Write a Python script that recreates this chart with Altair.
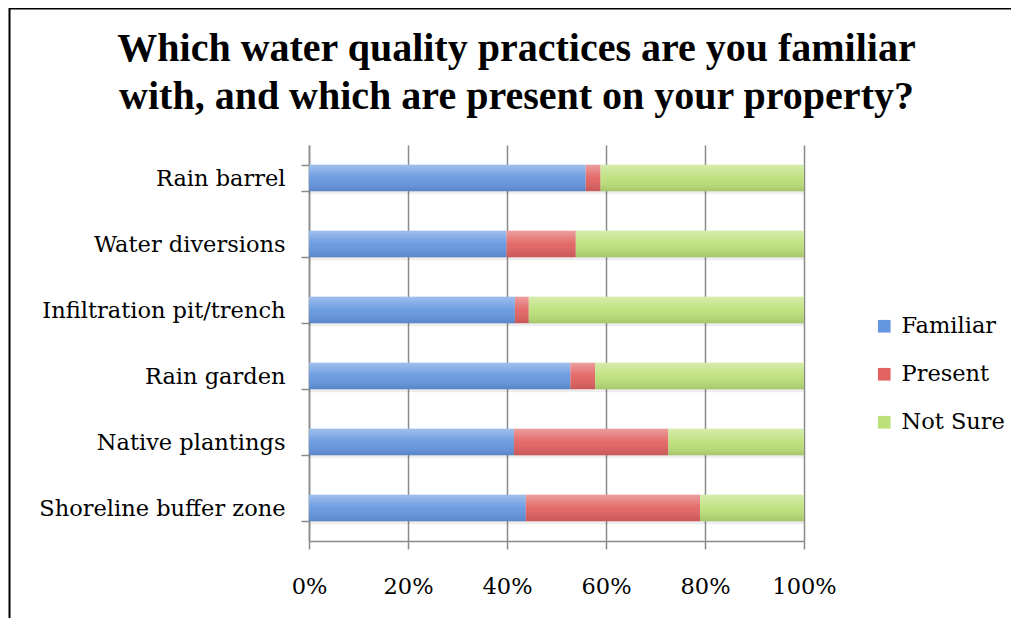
import altair as alt
import pandas as pd

practices = ["Rain barrel", "Water diversions", "Infiltration pit/trench",
             "Rain garden", "Native plantings", "Shoreline buffer zone"]
series = ["Familiar", "Present", "Not Sure"]
familiar = [55.9, 39.9, 41.6, 52.8, 41.4, 43.8]
present = [3.0, 14.0, 2.8, 5.0, 31.2, 35.2]
not_sure = [41.1, 46.1, 55.6, 42.2, 27.4, 21.0]
colors = ["#6597E0", "#E26262", "#BCE079"]
x_ticks = [0, 0.2, 0.4, 0.6, 0.8, 1.0]
title_lines = ["Which water quality practices are you familiar",
               "with, and which are present on your property?"]

rows = []
for i, p in enumerate(practices):
    for k, (s, vals) in enumerate(zip(series, [familiar, present, not_sure])):
        rows.append({"practice": p, "series": s, "value": vals[i], "order": k})
df = pd.DataFrame(rows)

LABEL_FONT = "DejaVu Serif"
AXIS_GRAY = "#8a8a8a"

x_enc = alt.X(
    "value:Q", stack="normalize", scale=alt.Scale(domain=[0, 1]),
    axis=alt.Axis(values=x_ticks, format=".0%", title=None, grid=True,
                  gridColor=AXIS_GRAY, gridWidth=1.5, tickSize=8,
                  tickColor=AXIS_GRAY, tickWidth=1.5, domainColor=AXIS_GRAY,
                  domainWidth=1.5, labelPadding=26, labelFont=LABEL_FONT,
                  labelFontSize=22.5, labelColor="black", labelFlush=False),
)
y_enc = alt.Y(
    "practice:N", sort=practices,
    scale=alt.Scale(paddingInner=0.6, paddingOuter=0.3),
    axis=alt.Axis(title=None, grid=False, tickBand="extent", tickSize=8,
                  tickColor=AXIS_GRAY, tickWidth=1.5, domainColor=AXIS_GRAY,
                  domainWidth=1.5, labelPadding=16, labelFont=LABEL_FONT,
                  labelFontSize=22.5, labelColor="black", labelLimit=400),
)
order_enc = alt.Order("order:Q")

base = alt.Chart(df)

shadow = base.mark_bar(color="black", opacity=0.07, yOffset=3).encode(
    x=x_enc, y=y_enc, detail="series:N", order=order_enc
)

bars = base.mark_bar().encode(
    x=x_enc, y=y_enc, order=order_enc,
    color=alt.Color(
        "series:N", sort=series,
        scale=alt.Scale(domain=series, range=colors),
        legend=alt.Legend(orient="none", legendX=564, legendY=170, title=None,
                          labelFont=LABEL_FONT, labelFontSize=22.5,
                          labelColor="black", symbolType="square",
                          symbolSize=160, symbolStrokeWidth=0,
                          rowPadding=25, labelOffset=6),
    ),
)

gloss = base.mark_bar(
    fill=alt.Gradient(
        gradient="linear", x1=0, x2=0, y1=0, y2=1,
        stops=[alt.GradientStop(color="rgba(255,255,255,0.38)", offset=0),
               alt.GradientStop(color="rgba(255,255,255,0.05)", offset=0.5),
               alt.GradientStop(color="rgba(0,0,0,0.12)", offset=1)],
    )
).encode(x=x_enc, y=y_enc, detail="series:N", order=order_enc)

border = alt.Chart(alt.Data(values=[{}])).mark_rect(
    fill="transparent", stroke="black", strokeWidth=2
).encode(
    x=alt.value(-299.5), x2=alt.value(720),
    y=alt.value(-136.5), y2=alt.value(520),
)

chart = alt.layer(border, shadow, bars, gloss).properties(
    width=495, height=396,
    autosize=alt.AutoSizeParams(type="none"),
    padding={"left": 301, "top": 137, "right": 207, "bottom": 77},
    title=alt.Title(title_lines, font="Liberation Serif", fontSize=40,
                    fontWeight="bold", color="black", anchor="middle",
                    frame="group", dx=-40, dy=109, offset=0, lineHeight=48),
).configure_view(strokeWidth=0)

chart.save("out.html", embed_options={"renderer": "svg", "actions": False})
